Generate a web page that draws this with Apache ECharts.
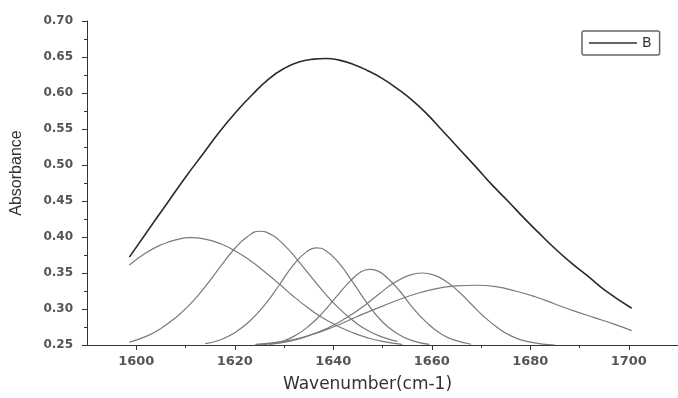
<!DOCTYPE html>
<html>
<head>
<meta charset="utf-8">
<style>
  html, body { margin: 0; padding: 0; background: #fff; }
  #chart { width: 678px; height: 398px; }
</style>
<script src="https://cdn.jsdelivr.net/npm/echarts@6.0.0/dist/echarts.min.js"></script>
</head>
<body>
<div id="chart"></div>
<script>
// measured spectrum (B) and the six fitted component bands
const bX = [1598.6, 1603.4, 1606.7, 1610, 1613.5, 1617, 1620.3, 1623.6, 1627, 1630, 1633, 1636, 1638.5, 1641, 1644, 1647, 1650, 1653, 1656, 1659, 1662, 1665.5, 1669, 1672.3, 1675.6, 1678.5, 1681.7, 1685, 1688.5, 1692, 1695.2, 1700.6];
const bY = [0.372, 0.419, 0.451, 0.483, 0.515, 0.547, 0.574, 0.598, 0.620, 0.634, 0.643, 0.647, 0.648, 0.646, 0.640, 0.631, 0.620, 0.606, 0.590, 0.571, 0.549, 0.523, 0.497, 0.472, 0.449, 0.428, 0.406, 0.384, 0.363, 0.344, 0.326, 0.301];

const c1X = [1598.6, 1602, 1605, 1608, 1611, 1614, 1617, 1620, 1623, 1626, 1629, 1632, 1635, 1638, 1641, 1644, 1647, 1650, 1654];
const c1Y = [0.361, 0.378, 0.389, 0.396, 0.399, 0.397, 0.391, 0.381, 0.368, 0.352, 0.335, 0.317, 0.301, 0.287, 0.276, 0.267, 0.260, 0.255, 0.251];

const c2X = [1598.6, 1602, 1605, 1608, 1611, 1614, 1617, 1620, 1622.5, 1625, 1627.5, 1630, 1632.5, 1635, 1638, 1641, 1644, 1647, 1650, 1653];
const c2Y = [0.254, 0.262, 0.273, 0.288, 0.307, 0.331, 0.358, 0.384, 0.400, 0.408, 0.403, 0.389, 0.370, 0.349, 0.324, 0.302, 0.284, 0.270, 0.261, 0.255];

const c3X = [1614, 1617, 1620, 1623, 1626, 1629, 1632, 1634.5, 1636.5, 1638.5, 1641, 1644, 1647, 1650, 1653, 1656, 1659.5];
const c3Y = [0.252, 0.257, 0.267, 0.283, 0.305, 0.333, 0.362, 0.379, 0.385, 0.381, 0.365, 0.337, 0.307, 0.282, 0.266, 0.256, 0.251];

const c4X = [1624, 1629, 1632, 1635, 1638, 1641, 1643.5, 1645.5, 1647.3, 1649, 1651, 1653.5, 1656, 1659, 1662, 1665, 1668];
const c4Y = [0.250, 0.254, 0.262, 0.276, 0.296, 0.320, 0.339, 0.351, 0.355, 0.353, 0.343, 0.325, 0.303, 0.281, 0.265, 0.256, 0.251];

const c5X = [1627, 1631, 1635, 1639, 1642.5, 1646, 1649.5, 1652.5, 1655.5, 1658, 1660.5, 1663, 1665.5, 1668, 1670.5, 1673, 1676, 1680, 1685];
const c5Y = [0.251, 0.255, 0.263, 0.274, 0.287, 0.303, 0.322, 0.337, 0.347, 0.350, 0.347, 0.338, 0.324, 0.307, 0.290, 0.276, 0.263, 0.254, 0.250];

const c6X = [1624.3, 1630, 1635, 1640, 1645, 1650, 1655, 1660, 1665, 1669, 1673, 1677, 1681, 1685, 1689, 1693, 1697, 1700.6];
const c6Y = [0.251, 0.255, 0.263, 0.275, 0.290, 0.304, 0.317, 0.327, 0.332, 0.333, 0.331, 0.325, 0.317, 0.307, 0.297, 0.288, 0.279, 0.270];

const xLabels = [1600, 1620, 1640, 1660, 1680, 1700];
const xMinor = [1610, 1630, 1650, 1670, 1690];

const zip = (xs, ys) => xs.map((x, i) => [x, ys[i]]);

const chart = echarts.init(document.getElementById("chart"));

const labelFont = "DejaVu Sans";
const parts = [[c1X, c1Y], [c2X, c2Y], [c3X, c3Y], [c4X, c4Y], [c5X, c5Y], [c6X, c6Y]];

chart.setOption({
  animation: false,
  backgroundColor: "#fff",
  grid: { left: 87, right: 0, top: 21, bottom: 47 },
  legend: {
    data: [{ name: "B", icon: "rect" }],
    left: 582, top: 31,
    padding: [5, 8, 5, 7],
    itemWidth: 48, itemHeight: 1.5,
    borderColor: "#666", borderWidth: 1.5, borderRadius: 2,
    textStyle: { fontFamily: labelFont, fontSize: 14, color: "#333" },
  },
  xAxis: [
    {
      type: "value", min: 1590, max: 1710,
      name: "Wavenumber(cm-1)", nameLocation: "middle", nameGap: 31,
      nameTextStyle: { fontFamily: labelFont, fontSize: 17, color: "#333", padding: [0, 30, 0, 0] },
      axisLine: { show: true, lineStyle: { color: "#333", width: 1 } },
      axisTick: { show: true, length: 5, customValues: xLabels, lineStyle: { color: "#333" } },
      axisLabel: {
        customValues: xLabels, margin: 10, fontFamily: labelFont, fontWeight: "bold", fontSize: 13, color: "#555",
        formatter: (v) => String(v),
      },
      splitLine: { show: false },
    },
    {
      type: "value", min: 1590, max: 1710, position: "bottom",
      axisLine: { show: false },
      axisTick: { show: true, length: 3, customValues: xMinor, lineStyle: { color: "#333" } },
      axisLabel: { show: false },
      splitLine: { show: false },
    },
  ],
  yAxis: {
    type: "value", min: 0.25, max: 0.70, interval: 0.05,
    name: "Absorbance", nameLocation: "middle", nameGap: 62,
    nameTextStyle: { fontFamily: "Liberation Sans", fontSize: 16, color: "#333", padding: [0, 0, 0, 20] },
    axisLine: { show: true, lineStyle: { color: "#333", width: 1 } },
    axisTick: { show: true, length: 5, lineStyle: { color: "#333" } },
    minorTick: { show: true, splitNumber: 2, length: 3, lineStyle: { color: "#333" } },
    axisLabel: { margin: 14, fontFamily: labelFont, fontWeight: "bold", fontSize: 12, color: "#555", formatter: (v) => v.toFixed(2) },
    splitLine: { show: false },
  },
  series: [
    {
      name: "B", type: "line", data: zip(bX, bY), smooth: true,
      showSymbol: false, silent: true,
      itemStyle: { color: "#333" },
      lineStyle: { color: "#2a2a2a", width: 1.6 },
    },
    ...parts.map(([xs, ys], i) => ({
      name: "peak" + (i + 1), type: "line", data: zip(xs, ys), smooth: true,
      showSymbol: false, silent: true,
      lineStyle: { color: "#7a7a7a", width: 1.2 },
    })),
  ],
});
</script>
</body>
</html>
